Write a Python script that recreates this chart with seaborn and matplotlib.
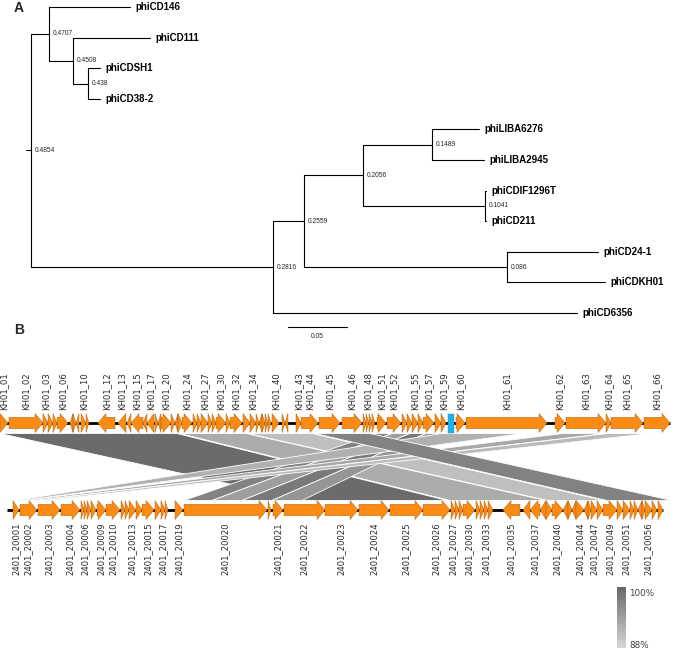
import numpy as np
import matplotlib
matplotlib.use("Agg")
import matplotlib.pyplot as plt
from matplotlib.patches import Polygon, Rectangle
import seaborn as sns

# ---------------- A) tree: nodes listed parent-before-child, tips in plot order
node_name = ['root', 'n1', 'phiCD146', 'n2', 'phiCD111', 'n3', 'phiCDSH1', 'phiCD38-2',
             'n4', 'n5', 'n6', 'n7', 'phiLIBA6276', 'phiLIBA2945', 'n8', 'phiCDIF1296T',
             'phiCD211', 'n9', 'phiCD24-1', 'phiCDKH01', 'phiCD6356']
node_parent = [None, 'root', 'n1', 'n1', 'n2', 'n2', 'n3', 'n3',
               'root', 'n4', 'n5', 'n6', 'n7', 'n7', 'n6', 'n8',
               'n8', 'n5', 'n9', 'n9', 'n4']
branch_len = [0.0042, 0.0153, 0.0686, 0.0203, 0.0652, 0.0127, 0.0102, 0.0102,
              0.2051, 0.0263, 0.0500, 0.0584, 0.0399, 0.0441, 0.1033, 0.0009,
              0.0009, 0.1720, 0.0771, 0.0830, 0.2576]
node_support = ['0.4854', '0.4707', '', '0.4508', '', '0.438', '', '',
                '0.2816', '0.2559', '0.2056', '0.1489', '', '', '0.1041', '',
                '', '0.086', '', '', '']
scale_len = 0.05

# ---------------- B) genome maps (positions in plot units along the genome)
kh_start = [0, 9, 43, 48, 53, 57, 70, 73, 76, 81, 86, 98, 118, 127, 131, 143, 147, 155, 158, 161,
            171, 175, 178, 182, 193, 197, 201, 208, 212, 216, 226, 230, 243, 250, 256, 259, 262, 265,
            268, 272, 282, 285, 296, 301, 319, 342, 363, 366, 369, 372, 377, 387, 402, 407, 412, 418,
            423, 435, 441, 456, 466, 555, 566, 606, 611, 644]
kh_end = [8, 43, 48, 53, 57, 68, 73, 76, 79, 86, 89, 115, 126, 131, 143, 147, 154, 158, 161, 171,
          175, 178, 182, 192, 197, 201, 208, 212, 216, 226, 230, 242, 250, 256, 259, 262, 265, 268,
          271, 279, 285, 288, 301, 318, 340, 362, 366, 369, 372, 375, 386, 401, 407, 412, 418, 423,
          434, 441, 446, 465, 547, 565, 606, 611, 643, 670]
kh_strand = [1, 1, 1, 1, 1, 1, -1, 1, -1, 1, 1, -1, -1, -1, -1, -1, -1, 1, -1, 1,
             1, -1, 1, 1, 1, 1, 1, 1, 1, 1, 1, 1, 1, 1, 1, -1, 1, 1,
             1, 1, 1, -1, 1, 1, 1, 1, 1, 1, 1, 1, 1, 1, 1, 1, 1, 1,
             1, 1, 1, 1, 1, 1, 1, 1, 1, 1]
kh_label = ['KH01_01', 'KH01_02', 'KH01_03', '', '', 'KH01_06', '', '', '', 'KH01_10', '',
            'KH01_12', 'KH01_13', '', 'KH01_15', '', 'KH01_17', '', '', 'KH01_20',
            '', '', '', 'KH01_24', '', '', 'KH01_27', '', '', 'KH01_30', '', 'KH01_32', '',
            'KH01_34', '', '', '', '', '', 'KH01_40', '', '', 'KH01_43', 'KH01_44', 'KH01_45',
            'KH01_46', '', 'KH01_48', '', '', 'KH01_51', 'KH01_52', '', '', 'KH01_55', '',
            'KH01_57', '', 'KH01_59', 'KH01_60', 'KH01_61', 'KH01_62', 'KH01_63', 'KH01_64',
            'KH01_65', 'KH01_66']
kh_marked = (448, 454)
kh_extent = (0, 670)

cd_start = [13, 20, 38, 61, 81, 84, 87, 91, 97, 106, 121, 125, 129, 136, 142, 155, 161, 165, 175,
            184, 268, 273, 284, 325, 359, 390, 423, 451, 455, 459, 463, 476, 480, 484, 488, 503,
            523, 530, 540, 546, 552, 563, 568, 572, 576, 584, 588, 591, 597, 603, 617, 623, 630,
            634, 638, 642, 645, 652, 658]
cd_end = [19, 37, 60, 80, 84, 87, 91, 96, 106, 120, 125, 129, 136, 142, 154, 161, 165, 168, 183,
          267, 271, 283, 325, 358, 389, 423, 450, 455, 459, 463, 475, 480, 484, 488, 493, 520,
          530, 540, 546, 552, 563, 568, 572, 576, 584, 588, 591, 597, 603, 617, 623, 630, 634,
          638, 642, 645, 652, 657, 663]
cd_strand = [1, 1, 1, 1, 1, 1, 1, 1, 1, 1, 1, 1, 1, 1, 1, 1, 1, 1, 1,
             1, 1, 1, 1, 1, 1, 1, 1, 1, 1, 1, 1, 1, 1, 1, 1, -1,
             -1, -1, -1, 1, 1, -1, 1, -1, 1, -1, 1, 1, 1, 1, 1, 1, 1,
             1, -1, 1, 1, 1, 1]
cd_label = ['2401_20001', '2401_20002', '2401_20003', '2401_20004', '', '2401_20006', '', '',
            '2401_20009', '2401_20010', '', '', '2401_20013', '', '2401_20015', '', '2401_20017',
            '', '2401_20019', '2401_20020', '', '2401_20021', '2401_20022', '2401_20023',
            '2401_20024', '2401_20025', '2401_20026', '2401_20027', '', '', '2401_20030', '', '',
            '2401_20033', '', '2401_20035', '', '2401_20037', '', '', '2401_20040', '', '', '',
            '2401_20044', '', '', '2401_20047', '', '2401_20049', '', '2401_20051', '', '', '',
            '', '2401_20056', '', '']
cd_extent = (7, 663)

# blast hits KH01 -> 2401 (drawing order), identity in %
hit_top_s = [0, 180, 248, 376, 392, 410, 426, 442, 563, 608, 315]
hit_top_e = [177, 246, 312, 392, 410, 426, 440, 523, 606, 650, 370]
hit_bot_s = [305, 450, 548, 184, 212, 242, 272, 15, 24, 36, 607]
hit_bot_e = [447, 546, 604, 212, 242, 272, 302, 22, 34, 45, 672]
hit_ident = [99.5, 92.5, 90.5, 97, 94, 98, 95, 92, 93, 91, 97]
ident_range = (88, 100)

sns.set_theme(style="white")
plt.rcParams['font.family'] = ['DejaVu Sans']

W, H = 677, 651
fig = plt.figure(figsize=(W / 100, H / 100), dpi=100)

# ---------------- panel A
px_per_unit = 1180.0
root_px, tip0_px, tip_step = 31, 7, 30.6
tree_h = 340
ax = fig.add_axes([0, 1 - tree_h / H, 1, tree_h / H])
ax.set_xlim(-root_px / px_per_unit, (W - root_px) / px_per_unit)
ax.set_ylim((tree_h - tip0_px) / tip_step, -tip0_px / tip_step)
ax.axis('off')

idx = {n: i for i, n in enumerate(node_name)}
children = {n: [] for n in node_name}
for n, p in zip(node_name, node_parent):
    if p is not None:
        children[p].append(n)

depth = {}
for n, p, bl in zip(node_name, node_parent, branch_len):
    depth[n] = 0.0 if p is None else depth[p] + bl

ypos = {}
tips = [n for n in node_name if not children[n]]
for i, n in enumerate(tips):
    ypos[n] = i
for n in reversed(node_name):
    if children[n]:
        ypos[n] = np.mean([ypos[c] for c in children[n]])

lw = 0.8
for n, p in zip(node_name, node_parent):
    if p is None:
        ax.plot([-branch_len[idx[n]], 0], [ypos[n]] * 2, color='black', lw=lw)
    else:
        ax.plot([depth[p], depth[n]], [ypos[n]] * 2, color='black', lw=lw)
    if children[n]:
        cy = [ypos[c] for c in children[n]]
        ax.plot([depth[n]] * 2, [min(cy), max(cy)], color='black', lw=lw)
        if node_support[idx[n]]:
            ax.text(depth[n] + 4 / px_per_unit, ypos[n], node_support[idx[n]],
                    fontsize=4.8, va='center', ha='left', family='Liberation Sans')
    else:
        ax.text(depth[n] + 5 / px_per_unit, ypos[n], n, fontsize=7, fontweight='bold',
                va='center', ha='left', family='Liberation Sans', color='black')

sb_x = (288 - root_px) / px_per_unit
sb_y = (327 - tip0_px) / tip_step
ax.plot([sb_x, sb_x + scale_len], [sb_y, sb_y], color='black', lw=lw)
ax.text(sb_x + scale_len / 2, sb_y + 0.3, f'{scale_len:.2f}', fontsize=4.8,
        ha='center', va='center', family='Liberation Sans')

fig.text(19 / W, 1 - 8 / H, 'A', fontsize=10, fontweight='bold', ha='center', va='center',
         family='Liberation Sans')
fig.text(19 / W, 1 - 330 / H, 'B', fontsize=10, fontweight='bold', ha='center', va='center',
         family='Liberation Sans')

# ---------------- panel B
gy0 = 340
bx = fig.add_axes([0, 0, 1, (H - gy0) / H])
bx.set_xlim(0, W)
bx.set_ylim(H, gy0)
bx.axis('off')

top_y, bot_y, gene_h = 423, 510, 19
orange, orange_edge = '#fb8b14', '#a85c0c'
cmap = sns.blend_palette(['#d6d6d6', '#676767'], as_cmap=True)


def gene_poly(s, e, strand, yc):
    h = gene_h / 2
    b = gene_h * 0.3
    head = min(8, e - s)
    if strand < 0:
        s, e, head = e, s, -head
    pts = [(s, yc - b), (e - head, yc - b), (e - head, yc - h), (e, yc),
           (e - head, yc + h), (e - head, yc + b), (s, yc + b)]
    return Polygon(pts, closed=True, facecolor=orange, edgecolor=orange_edge, lw=0.3, zorder=3)


# homology bands
yb0, yb1 = top_y + gene_h / 2 + 1, bot_y - gene_h / 2
for ts, te, bs, be, pid in zip(hit_top_s, hit_top_e, hit_bot_s, hit_bot_e, hit_ident):
    c = cmap((pid - ident_range[0]) / (ident_range[1] - ident_range[0]))
    bx.add_patch(Polygon([(ts, yb0), (te, yb0), (be, yb1), (bs, yb1)], closed=True,
                         facecolor=c, edgecolor='white', lw=0.6, zorder=1))

for ext, yc in [(kh_extent, top_y), (cd_extent, bot_y)]:
    bx.plot(ext, [yc, yc], color='black', lw=2, zorder=2, solid_capstyle='butt')

for s, e, st, lab in zip(kh_start, kh_end, kh_strand, kh_label):
    bx.add_patch(gene_poly(s, e, st, top_y))
    if lab:
        bx.text((s + e) / 2, top_y - gene_h / 2 - 3, lab, rotation=90, fontsize=6.1,
                ha='center', va='bottom', color='#2a2a2a')
bx.add_patch(Rectangle((kh_marked[0], top_y - gene_h / 2), kh_marked[1] - kh_marked[0], gene_h,
                       facecolor='#1fb1ea', edgecolor='#1c8fc0', lw=0.3, zorder=3))

for s, e, st, lab in zip(cd_start, cd_end, cd_strand, cd_label):
    bx.add_patch(gene_poly(s, e, st, bot_y))
    if lab:
        bx.text((s + e) / 2, bot_y + gene_h / 2 + 3, lab, rotation=90, fontsize=6.1,
                ha='center', va='top', color='#2a2a2a')

# identity scale
cb = fig.add_axes([617 / W, 1 - 648 / H, 9 / W, 61 / H])
cb.imshow(np.linspace(ident_range[1], ident_range[0], 100)[:, None], cmap=cmap, aspect='auto',
          vmin=ident_range[0], vmax=ident_range[1])
cb.axis('off')
fig.text(629 / W, 1 - 593 / H, f'{ident_range[1]}%', fontsize=6.3, color='#404040', va='center')
fig.text(629 / W, 1 - 645 / H, f'{ident_range[0]}%', fontsize=6.3, color='#404040', va='center')

fig.savefig('out.png', dpi=100)
